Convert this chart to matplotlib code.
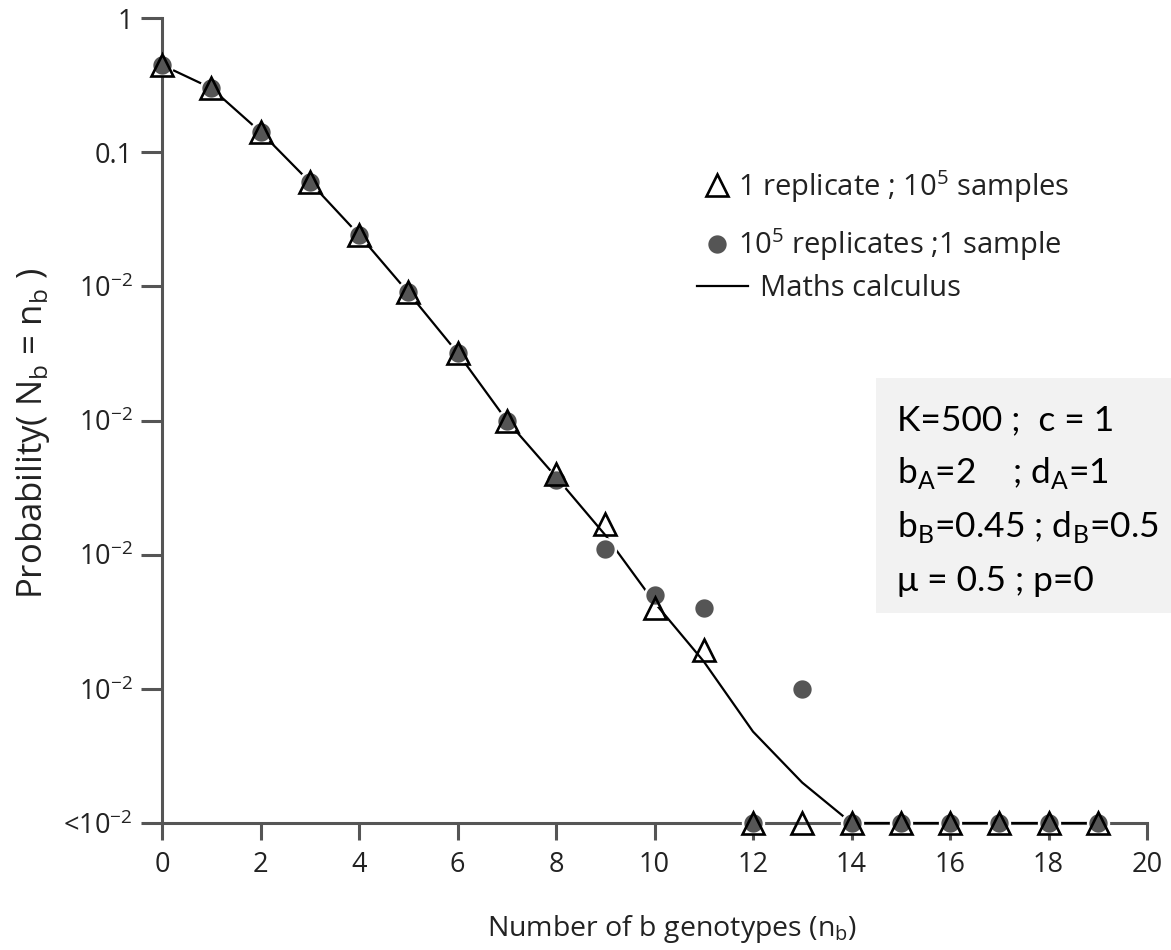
import matplotlib
matplotlib.use("Agg")
import matplotlib.pyplot as plt
from matplotlib.patches import Rectangle

# values; points below the axis floor are shown at the floor
floor = 1e-6
n_b = list(range(20))

tri_vals = [0.447, 0.30, 0.1415, 0.060, 0.0242, 0.0090, 0.0032, 0.00100, 0.00040,
            0.000170, 0.000040, 0.0000195, floor, floor, floor, floor, floor, floor,
            floor, floor]
circ_vals = [0.447, 0.30, 0.1415, 0.060, 0.0242, 0.0090, 0.0032, 0.00100, 0.00036,
             0.000110, 0.000050, 0.000040, floor, 0.000010, floor, floor, floor, floor,
             floor, floor]
maths_vals = [0.447, 0.30, 0.1415, 0.060, 0.0242, 0.0090, 0.0032, 0.00100, 0.00038,
              0.000140, 0.000044, 0.000016, 0.0000048, 0.0000020, floor, floor, floor,
              floor, floor, floor]

ytick_vals = [1, 0.1, 1e-2, 1e-3, 1e-4, 1e-5, 1e-6]
ytick_labels = ["1", "0.1", "10$^\\mathregular{-2}$", "10$^\\mathregular{-2}$",
                "10$^\\mathregular{-2}$", "10$^\\mathregular{-2}$", "<10$^\\mathregular{-2}$"]
xtick_vals = list(range(0, 21, 2))

box_lines = ["K=500 ;  c = 1",
             "b$_\\mathregular{A}$=2    ; d$_\\mathregular{A}$=1",
             "b$_\\mathregular{B}$=0.45 ; d$_\\mathregular{B}$=0.5",
             "\u03bc = 0.5 ; p=0"]

plt.rcParams['font.family'] = ['Open Sans', 'DejaVu Sans']
axis_col = "#555555"
txt_col = "#222222"
tick_fs = 19.5
leg_fs = 21

fig = plt.figure(figsize=(11.71, 9.5), dpi=100)
ax = fig.add_axes([162/1171, 1-823/950, 985/1171, 805/950])

line, = ax.plot(n_b, maths_vals, color="black", lw=1.6, zorder=3, clip_on=False)
circ, = ax.plot(n_b, circ_vals, ls="none", marker="o", ms=15, mfc="#555555",
                mec="white", mew=1.8, zorder=4, clip_on=False)
tri, = ax.plot(n_b, tri_vals, ls="none", marker="^", ms=15.5, mfc="none",
               mec="black", mew=1.9, zorder=5, clip_on=False)

ax.set_yscale("log")
ax.set_ylim(1e-6, 1)
ax.set_xlim(0, 20)
ax.set_yticks(ytick_vals)
ax.set_yticklabels(ytick_labels)
ax.yaxis.set_minor_locator(matplotlib.ticker.NullLocator())
ax.set_xticks(xtick_vals)

for s in ["top", "right"]:
    ax.spines[s].set_visible(False)
for s in ["left", "bottom"]:
    ax.spines[s].set_color(axis_col)
    ax.spines[s].set_linewidth(2.2)
ax.tick_params(axis="y", length=15, width=2.2, color=axis_col, labelsize=tick_fs,
               labelcolor=txt_col, pad=6)
ax.tick_params(axis="x", length=12, width=2.2, color=axis_col, labelsize=tick_fs,
               labelcolor=txt_col, pad=8)

ax.set_ylabel("Probability( N$_\\mathregular{b}$ = n$_\\mathregular{b}$ )",
              fontsize=25, color=txt_col)
ax.yaxis.set_label_coords(-0.112, 0.484)
ax.set_xlabel("Number of b genotypes (n$_\\mathregular{b}$)", fontsize=20.5,
              color=txt_col, va="top")
ax.xaxis.set_label_coords(0.518, -0.112)

leg1 = ax.legend(handles=[tri, circ],
                 labels=["1 replicate ; 10$^\\mathregular{5}$ samples",
                         "10$^\\mathregular{5}$ replicates ;1 sample"],
                 loc="center left", bbox_to_anchor=(705/1171, 1-215.5/950),
                 bbox_transform=fig.transFigure, frameon=False, fontsize=leg_fs,
                 handlelength=0.8, handletextpad=0.32, labelspacing=0.75,
                 borderpad=0, borderaxespad=0, markerscale=1.0)
for t in leg1.get_texts():
    t.set_color(txt_col)
ax.add_artist(leg1)
leg2 = ax.legend(handles=[line], labels=["Maths calculus"],
                 loc="center left", bbox_to_anchor=(697/1171, 1-289/950),
                 bbox_transform=fig.transFigure, frameon=False, fontsize=leg_fs,
                 handlelength=1.75, handletextpad=0.41, borderpad=0,
                 borderaxespad=0)
for t in leg2.get_texts():
    t.set_color(txt_col)

fig.patches.append(Rectangle((876/1171, 1-613/950), 1-876/1171, 235/950,
                             transform=fig.transFigure, facecolor="#f2f2f2",
                             edgecolor="none", zorder=0))
baselines = [430, 483, 537, 591]
for txt, yb in zip(box_lines, baselines):
    fig.text(897/1171, 1-yb/950, txt, fontsize=25.5, family=["Lato", "DejaVu Sans"],
             va="baseline", ha="left", color="black")

fig.savefig("out.png", dpi=100)
